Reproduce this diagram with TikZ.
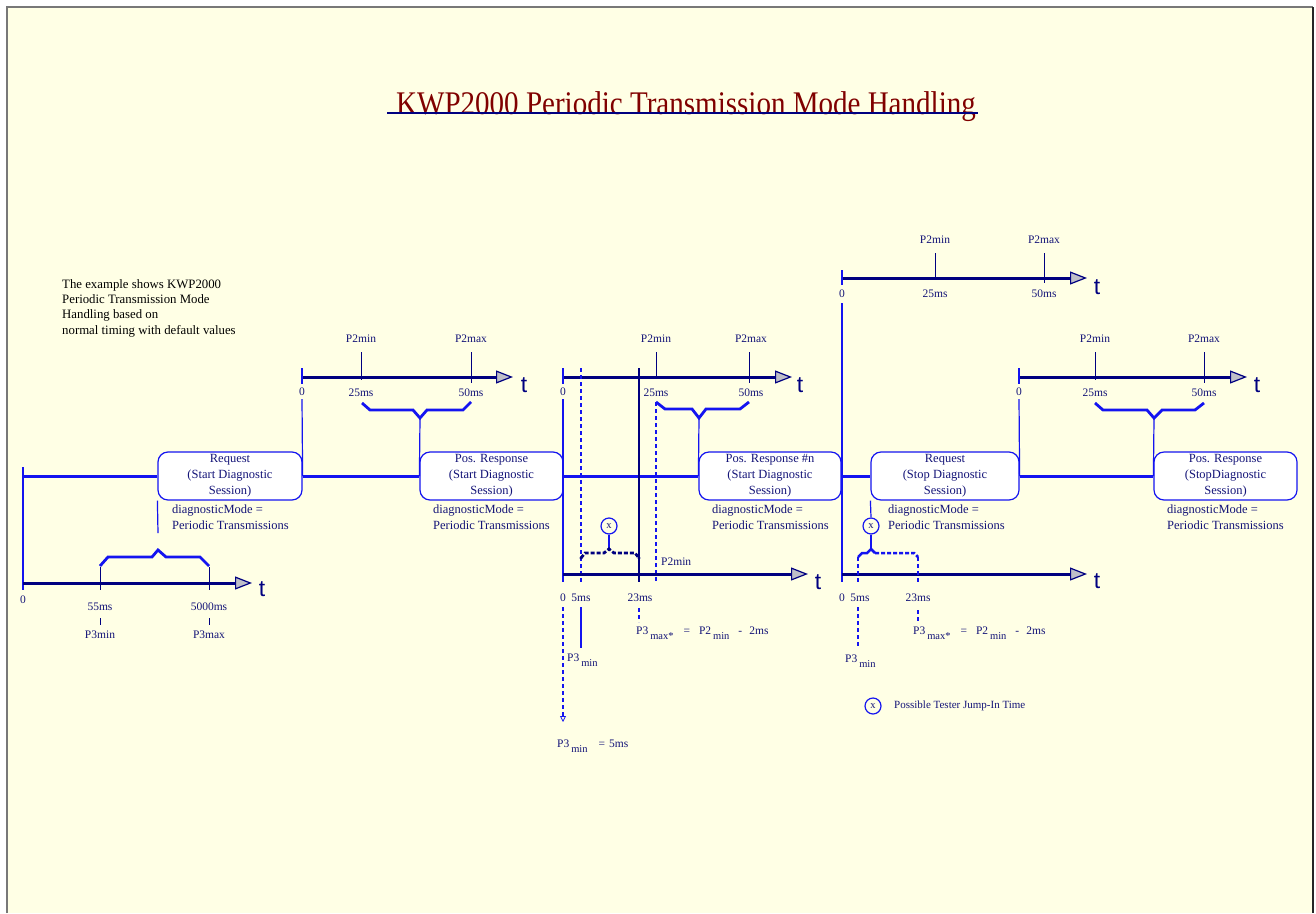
\documentclass[tikz,border=0pt]{standalone}
\usepackage{fontspec}
\setmainfont{Liberation Serif}
\newfontfamily\tfont{Liberation Sans}
\usetikzlibrary{arrows.meta}
\definecolor{bgc}{RGB}{255,255,229}
\definecolor{navyT}{RGB}{20,20,120}
\definecolor{navyL}{RGB}{0,0,128}
\definecolor{blueL}{RGB}{20,20,240}
\definecolor{titler}{RGB}{128,0,0}
\definecolor{tipg}{RGB}{190,190,200}
\definecolor{frameg}{RGB}{120,120,120}
\newcommand\lowsub[1]{\raisebox{-5pt}{\fontsize{10.5}{12}\selectfont #1}}
\begin{document}
\begin{tikzpicture}[x=1pt,y=-1pt,
  box/.style={draw=blueL, line width=1.2pt, rounded corners=10pt, fill=white, minimum height=48pt, align=center, text=navyT, font=\fontsize{12.5}{16}\selectfont, inner sep=0pt, execute at begin node={\rule{0pt}{15pt}}},
  lbl/.style={text=navyT, font=\fontsize{11.5}{13}\selectfont, inner sep=0pt},
  note/.style={text=navyT, font=\fontsize{12.5}{16}\selectfont, inner sep=0pt, anchor=west, align=left},
  mline/.style={blueL, line width=3pt},
  tline/.style={navyL, line width=3pt, -{Triangle[length=17pt,width=13pt,fill=tipg,line width=1.2pt]}},
  vl/.style={blueL, line width=1.2pt},
  vln/.style={navyL, line width=1.2pt},
  vld/.style={blueL, line width=1.2pt, dash pattern=on 4pt off 3pt},
  tick/.style={navyL, line width=1pt},
  brc/.style={blueL, line width=2.8pt},
  brcd/.style={navyL, line width=2.8pt, dash pattern=on 4pt off 2pt},
  tt/.style={text=navyL, font=\tfont\fontsize{23}{25}\selectfont, inner sep=0pt},
  jx/.style={circle, draw=blueL, line width=1.2pt, minimum size=16pt, inner sep=0pt, fill=bgc, text=navyT, font=\fontsize{10.5}{10}\selectfont}
]
\useasboundingbox (0,0) rectangle (1316,913);
% background and frame
\fill[bgc] (7,7) rectangle (1313,913);
\draw[frameg, line width=2pt] (7,913) -- (7,7) -- (1313,7);
\draw[black!85, line width=2pt] (1313,7) -- (1313,913);

% title
\node[text=titler, font=\fontsize{33}{38}\selectfont, inner sep=0pt, anchor=base] (title) at (686,114) {\scalebox{0.88}[1]{KWP2000 Periodic Transmission Mode Handling}};
\draw[navyL, line width=2.5pt] (387,113) -- (978,113);

% explanation
\node[text=black, font=\fontsize{12.8}{15.3}\selectfont, inner sep=0pt, anchor=west, align=left] (expl) at (62,308) {The example shows KWP2000\\Periodic Transmission Mode\\Handling based on\\normal timing with default values};

% boxes
\node[box, minimum width=144pt] (b1) at (230,476) {Request\\(Start Diagnostic\\Session)};
\node[box, minimum width=143pt] (b2) at (491.5,476) {Pos. Response\\(Start Diagnostic\\Session)};
\node[box, minimum width=142pt] (b3) at (770,476) {Pos. Response \#n\\(Start Diagnostic\\Session)};
\node[box, minimum width=148pt] (b4) at (945,476) {Request\\(Stop Diagnostic\\Session)};
\node[box, minimum width=143pt] (b5) at (1225.5,476) {Pos. Response\\(StopDiagnostic\\Session)};

% main line
\coordinate (m0) at (23,476);
\draw[mline] (m0) -- (b1.west);
\draw[mline] (b1.east) -- (b2.west);
\draw[mline] (b2.east) -- (b3.west);
\draw[mline] (b3.east) -- (b4.west);
\draw[mline] (b4.east) -- (b5.west);

% notes below boxes
\node[note] (n1) at (172,517) {diagnosticMode =\\Periodic Transmissions};
\node[note] (n2) at (433,517) {diagnosticMode =\\Periodic Transmissions};
\node[note] (n3) at (712,517) {diagnosticMode =\\Periodic Transmissions};
\node[note] (n4) at (888,517) {diagnosticMode =\\Periodic Transmissions};
\node[note] (n5) at (1167,517) {diagnosticMode =\\Periodic Transmissions};

% ---------- section 1 (bottom timeline P3)
\draw[vl] (23,467) -- (23,590);
\coordinate (t1s) at (23,583); \coordinate (t1e) at (252,583);
\draw[tline] (t1s) -- (t1e);
\node[tt] (t1t) at (262,589) {t};
\draw[tick] (100,567) -- (100,590);
\draw[tick] (209,567) -- (209,590);
\draw[tick] (100,618) -- (100,625);
\draw[tick] (209,618) -- (209,625);
\node[lbl] (l1a) at (23,600) {0};
\node[lbl] (l1b) at (100,607) {55ms};
\node[lbl] (l1c) at (209,607) {5000ms};
\node[lbl] (l1d) at (100,635) {P3min};
\node[lbl] (l1e) at (209,635) {P3max};
\draw[brc] (100,566) -- (108,557) -- (152,557) -- (158,550) -- (166,557) -- (200,557) -- (209,566);
\coordinate (b1d) at (158,533);
\draw[vl] (b1.south west) -- (b1d);

% ---------- section 2
\coordinate (t2s) at (302,377); \coordinate (t2e) at (513,377);
\draw[tline] (t2s) -- (t2e);
\node[tt] (t2t) at (524,385) {t};
\draw[vl] (302,368) -- (302,384);
\draw[vl] (302,399) -- (b1.east);
\node[lbl] (l2a) at (302,392) {0};
\draw[tick] (361,352) -- (361,380);
\draw[tick] (471,352) -- (471,383);
\node[lbl] (l2b) at (361,339) {P2min};
\node[lbl] (l2c) at (471,339) {P2max};
\node[lbl] (l2d) at (361,393) {25ms};
\node[lbl] (l2e) at (471,393) {50ms};
\coordinate (p2) at (420,418);
\draw[brc] (362,403) -- (370,410) -- (413,410) -- (p2) -- (427,410) -- (463,410) -- (471,402);
\draw[vl] (p2) -- (b2.west);

% ---------- section 3
\coordinate (t3s) at (563,377); \coordinate (t3e) at (792,377);
\draw[tline] (t3s) -- (t3e);
\node[tt] (t3t) at (800,385) {t};
\draw[vl] (563,368) -- (563,384);
\draw[vl] (563,399) -- (563,582);
\draw[vld, -{Triangle[open,length=6pt,width=6pt,line width=0.8pt]}] (563,607) -- (563,722);
\draw[vld] (581,368) -- (581,582);
\draw[vl] (581,607) -- (581,648);
\draw[vln] (639,368) -- (639,582);
\draw[vld] (639,608) -- (639,622);
\draw[tick] (656,352) -- (656,378);
\draw[tick] (749,352) -- (749,383);
\draw[vld] (656,402) -- (656,582);
\node[lbl] (l3a) at (563,392) {0};
\node[lbl] (l3b) at (656,339) {P2min};
\node[lbl] (l3c) at (751,339) {P2max};
\node[lbl] (l3d) at (656,393) {25ms};
\node[lbl] (l3e) at (751,393) {50ms};
\coordinate (p3) at (699,418);
\draw[brc] (656,402) -- (665,409) -- (692,409) -- (p3) -- (706,409) -- (740,409) -- (749,402);
\draw[vl] (p3) -- (b3.west);
\coordinate (u3s) at (563,574); \coordinate (u3e) at (808,574);
\draw[tline] (u3s) -- (u3e);
\node[tt] (u3t) at (818,582) {t};
\node[lbl] (l3f) at (563,598) {0};
\node[lbl] (l3g) at (581,598) {5ms};
\node[lbl] (l3h) at (640,598) {23ms};
\node[lbl, anchor=west] (l3i) at (661,562) {P2min};
\node[jx] (x3) at (609,526) {x};
\coordinate (q3) at (609,549);
\draw[vl] (x3.south) -- (q3);
\draw[brcd] (581,558) -- (585,553) -- (604,553) -- (q3) -- (614,553) -- (635,553) -- (639,558);
\fill[navyL] (581,558) circle (1.6pt) (639,558) circle (1.6pt) (q3) circle (1.6pt);
\node[lbl, anchor=base west] (f3) at (636,634) {P3\,\lowsub{max*}\hspace{10pt}=\hspace{9pt}P2\,\lowsub{min}\hspace{9pt}-\hspace{7pt}2ms};
\node[lbl, anchor=base west] (g3) at (567,661) {P3\,\lowsub{min}};
\node[lbl, anchor=base west] (h3) at (557,747) {P3\,\lowsub{min}\hspace{11pt}=\hspace{4pt}5ms};

% ---------- section 4
\coordinate (t4s) at (842,278); \coordinate (t4e) at (1087,278);
\draw[tline] (t4s) -- (t4e);
\node[tt] (t4t) at (1097,287) {t};
\draw[tick] (935,253) -- (935,280);
\draw[tick] (1044,253) -- (1044,283);
\node[lbl] (l4a) at (842,294) {0};
\node[lbl] (l4b) at (935,240) {P2min};
\node[lbl] (l4c) at (1044,240) {P2max};
\node[lbl] (l4d) at (935,294) {25ms};
\node[lbl] (l4e) at (1044,294) {50ms};
\draw[vl] (842,270) -- (842,285);
\draw[vl] (842,303) -- (842,582);
\coordinate (u4s) at (842,574); \coordinate (u4e) at (1087,574);
\draw[tline] (u4s) -- (u4e);
\node[tt] (u4t) at (1097,581) {t};
\node[lbl] (l4f) at (842,598) {0};
\node[lbl] (l4g) at (860,598) {5ms};
\node[lbl] (l4h) at (918,598) {23ms};
\draw[vld] (858,557) -- (858,582);
\draw[vld] (858,607) -- (858,647);
\draw[vld] (918,557) -- (918,582);
\draw[vld] (918,610) -- (918,623);
\node[jx] (x4) at (871,526) {x};
\coordinate (q4) at (871,549);
\draw[vl] (b4.south west) -- (x4.north);
\draw[vl] (x4.south) -- (q4);
\draw[brc, line width=2.5pt] (858,557) -- (862,553) -- (867,553) -- (q4) -- (875,553);
\draw[brcd, blueL, line width=2.5pt] (875,553) -- (914,553) -- (918,557);
\node[lbl, anchor=base west] (f4) at (913,634) {P3\,\lowsub{max*}\hspace{10pt}=\hspace{9pt}P2\,\lowsub{min}\hspace{9pt}-\hspace{7pt}2ms};
\node[lbl, anchor=base west] (g4) at (845,662) {P3\,\lowsub{min}};
\node[jx] (xl) at (873,706) {x};
\node[lbl, anchor=west, font=\fontsize{11}{12}\selectfont] (leg) at (894,706) {Possible Tester Jump-In Time};

% ---------- section 5
\coordinate (t5s) at (1019,377); \coordinate (t5e) at (1247,377);
\draw[tline] (t5s) -- (t5e);
\node[tt] (t5t) at (1257,385) {t};
\draw[vl] (1019,368) -- (1019,384);
\draw[vl] (1019,399) -- (b4.east);
\node[lbl] (l5a) at (1019,392) {0};
\draw[tick] (1095,352) -- (1095,380);
\draw[tick] (1204,352) -- (1204,383);
\node[lbl] (l5b) at (1095,339) {P2min};
\node[lbl] (l5c) at (1204,339) {P2max};
\node[lbl] (l5d) at (1095,393) {25ms};
\node[lbl] (l5e) at (1204,393) {50ms};
\coordinate (p5) at (1154,418);
\draw[brc] (1095,403) -- (1103,410) -- (1147,410) -- (p5) -- (1162,410) -- (1195,410) -- (1204,403);
\draw[vl] (p5) -- (b5.west);
\end{tikzpicture}
\end{document}
